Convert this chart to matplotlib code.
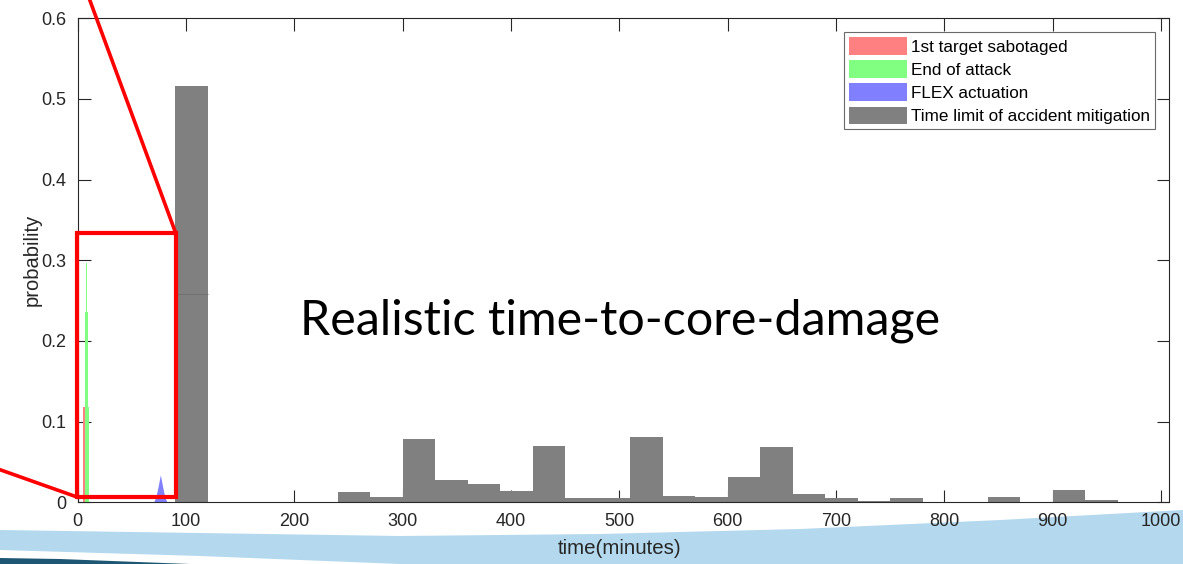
import matplotlib
matplotlib.use("Agg")
import matplotlib.pyplot as plt
from matplotlib.patches import Patch, Polygon, Rectangle
from matplotlib.lines import Line2D
import numpy as np

# ---------------- data ----------------
# Time limit of accident mitigation: 30-minute bins starting at 0
gray_bin_start = [0, 30, 60, 90, 120, 150, 180, 210, 240, 270, 300, 330, 360, 390,
                  420, 450, 480, 510, 540, 570, 600, 630, 660, 690, 720, 750, 780,
                  810, 840, 870, 900, 930]
gray_prob = [0, 0, 0, 0.516, 0, 0, 0, 0, 0.0124, 0.007, 0.0784, 0.0276, 0.0227, 0.0144,
             0.0698, 0.0057, 0.0057, 0.0809, 0.0078, 0.0062, 0.0317, 0.0685, 0.0099, 0.0057,
             0.0016, 0.0053, 0, 0, 0.0062, 0, 0.0152, 0.0029]
gray_bin_width = 30

# 1st target sabotaged (narrow bins near 5 min)
red_lo = [4.6, 5.05]
red_hi = [7.0, 5.35]
red_prob = [0.118, 0.474]

# End of attack (narrow bins near 8 min)
green_lo = [6.5, 7.0, 7.8]
green_hi = [10.0, 9.5, 8.9]
green_prob = [0.118, 0.236, 0.296]

# FLEX actuation (narrow peak near 76 min)
blue_t = [70, 72, 74, 76.3, 78.6, 80.5, 82.5]
blue_prob = [0, 0.006, 0.018, 0.034, 0.018, 0.006, 0]

labels = ["1st target sabotaged", "End of attack", "FLEX actuation",
          "Time limit of accident mitigation"]
xticks = [0, 100, 200, 300, 400, 500, 600, 700, 800, 900, 1000]
yticks = [0, 0.1, 0.2, 0.3, 0.4, 0.5, 0.6]
ytick_labels = ["0", "0.1", "0.2", "0.3", "0.4", "0.5", "0.6"]
overlay_title = "Realistic time-to-core-damage"

# ---------------- style ----------------
RED = "#FF8080"
GREEN = "#80FF80"
BLUE = "#8080FF"
GRAY = "#808080"
AXC = "#262626"
W, H = 1183, 564
plt.rcParams["font.family"] = ["Liberation Sans", "DejaVu Sans"]

fig = plt.figure(figsize=(W / 100, H / 100), dpi=100)
fig.patch.set_facecolor("white")

def fx(px):
    return px / W

def fy(py):
    return 1 - py / H

AX_L, AX_R, AX_T, AX_B = 77.7, 1169.3, 18.1, 502.3
ax = fig.add_axes([fx(AX_L), fy(AX_B), fx(AX_R) - fx(AX_L), fy(AX_T) - fy(AX_B)])

# gray histogram
ax.bar(np.array(gray_bin_start) + gray_bin_width / 2, gray_prob, width=gray_bin_width,
       color=GRAY, linewidth=0, zorder=2)
# faint seam inside the tall bar (overlapping patches in original)
imax = int(np.argmax(gray_prob))
ax.hlines(gray_prob[imax] / 2, gray_bin_start[imax], gray_bin_start[imax] + gray_bin_width,
          color="#6e6e6e", linewidth=0.6, zorder=3)

# red
for lo, hi, p in zip(red_lo, red_hi, red_prob):
    ax.bar((lo + hi) / 2, p, width=hi - lo, color=RED, linewidth=0, zorder=2)
# green
for lo, hi, p in zip(green_lo, green_hi, green_prob):
    ax.bar((lo + hi) / 2, p, width=hi - lo, color=GREEN, linewidth=0, zorder=2)
# blue
ax.fill_between(blue_t, blue_prob, 0, color=BLUE, linewidth=0, zorder=2)

ax.set_xlim(0, 1007.6)
ax.set_ylim(0, 0.6)
ax.set_xticks(xticks)
ax.set_yticks(yticks)
ax.set_yticklabels(ytick_labels)
ax.tick_params(direction="in", length=9, width=0.8, colors=AXC, labelsize=13,
               top=True, right=True, labeltop=False, labelright=False)
ax.tick_params(axis="x", pad=8)
ax.tick_params(axis="y", pad=8)
for s in ax.spines.values():
    s.set_color(AXC)
    s.set_linewidth(0.8)
ax.set_ylabel("probability", fontsize=14.5, color=AXC)
ax.yaxis.set_label_coords((32 - AX_L) / (AX_R - AX_L), 0.5)
ax.yaxis.label.set_va("center")

handles = [Patch(facecolor=c, edgecolor="none") for c in (RED, GREEN, BLUE, GRAY)]
leg = ax.legend(handles, labels, loc="upper right",
                bbox_to_anchor=(fx(1155), fy(32)), bbox_transform=fig.transFigure,
                borderaxespad=0, fontsize=12.3, handlelength=3.4, handleheight=1.2,
                handletextpad=0.2, labelspacing=0.33, borderpad=0.3, fancybox=False,
                framealpha=1, edgecolor="#6a6a6a")
leg.get_frame().set_linewidth(0.8)
for t in leg.get_texts():
    t.set_color("black")

# ---------------- slide decorations ----------------
# light blue swoosh
top_edge = [(0, 530), (200, 533), (400, 536), (600, 534), (800, 529), (1000, 520), (1183, 510)]
poly = top_edge + [(1183, 564), (400, 564), (300, 560), (200, 556), (0, 550)]
fig.add_artist(Polygon([(fx(x), fy(y)) for x, y in poly], closed=True,
                       transform=fig.transFigure, facecolor="#B4D9EE", edgecolor="none", zorder=0))
dark = [(0, 558), (60, 559), (190, 564), (0, 564)]
fig.add_artist(Polygon([(fx(x), fy(y)) for x, y in dark], closed=True,
                       transform=fig.transFigure, facecolor="#1E5773", edgecolor="none", zorder=0))

# x label sits on swoosh
fig.text(fx(620), fy(549), "time(minutes)", ha="center", va="center", fontsize=14.8,
         color=AXC, zorder=5)

# red zoom annotation
rl, rr, rt, rb = 77, 175.5, 232.5, 497
fig.add_artist(Rectangle((fx(rl), fy(rb)), fx(rr) - fx(rl), fy(rt) - fy(rb),
                         transform=fig.transFigure, fill=False, edgecolor="red",
                         linewidth=3.0, zorder=10))
fig.add_artist(Line2D([fx(rr), fx(89)], [fy(rt), fy(-2)], transform=fig.transFigure,
                      color="red", linewidth=2.6, zorder=10))
fig.add_artist(Line2D([fx(-2), fx(rl)], [fy(469), fy(rb)], transform=fig.transFigure,
                      color="red", linewidth=2.6, zorder=10))

# overlay title, fitted to the width seen in the slide
txt = fig.text(fx(620), fy(321), overlay_title, ha="center", va="center",
               fontsize=40, family=["Lato", "DejaVu Sans"], color="black", zorder=6)
fig.canvas.draw()
bb = txt.get_window_extent()
txt.set_fontsize(40 * 641 / bb.width)

fig.savefig("out.png", dpi=100)
